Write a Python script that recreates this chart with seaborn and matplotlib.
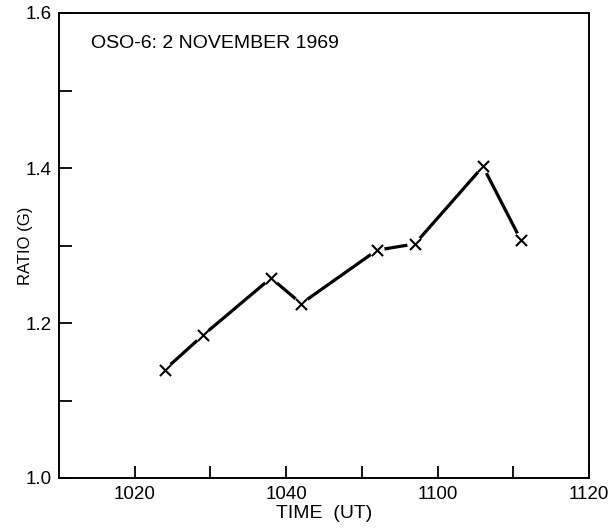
import matplotlib
matplotlib.use("Agg")
import matplotlib.pyplot as plt
import seaborn as sns
import pandas as pd
from matplotlib.ticker import FixedLocator, FuncFormatter

# Data (time in HHMM UT, ratio)
times_hhmm = ["1024", "1029", "1038", "1042", "1052", "1057", "1106", "1111"]
ratio = [1.140, 1.184, 1.258, 1.225, 1.294, 1.302, 1.402, 1.307]
x_tick_labels = ["1020", "1040", "1100", "1120"]
y_tick_labels = ["1.0", "1.2", "1.4", "1.6"]
title_text = "OSO-6: 2 NOVEMBER 1969"


def to_min(s):
    return int(s[:-2]) * 60 + int(s[-2:])


df = pd.DataFrame({"t": [to_min(s) for s in times_hhmm], "ratio": ratio})

sns.set_style("ticks")
plt.rcParams["font.family"] = ["Liberation Sans", "DejaVu Sans"]
plt.rcParams["text.color"] = "black"
plt.rcParams["axes.labelcolor"] = "black"

fig = plt.figure(figsize=(6.11, 5.28), dpi=100)
ax = fig.add_axes([59 / 611, 1 - 478 / 528, (589 - 59) / 611, (478 - 13) / 528])

sns.lineplot(data=df, x="t", y="ratio", color="black", linewidth=2.3, ax=ax,
             zorder=2, sort=False)
sns.scatterplot(data=df, x="t", y="ratio", marker="o", s=120, color="white",
                edgecolor="none", linewidth=0, ax=ax, zorder=3)
sns.scatterplot(data=df, x="t", y="ratio", marker="x", s=64, color="black",
                linewidth=1.5, ax=ax, zorder=4)

ax.set_xlim(to_min("1010"), to_min("1120"))
ax.set_ylim(1.0, 1.6)

major_x = [to_min(s) for s in x_tick_labels]
ax.xaxis.set_major_locator(FixedLocator(major_x))
ax.xaxis.set_minor_locator(FixedLocator([to_min(s) for s in ["1030", "1050", "1110"]]))
ax.xaxis.set_major_formatter(FuncFormatter(lambda v, p: f"{int(v)//60:02d}{int(v)%60:02d}"))
ax.yaxis.set_major_locator(FixedLocator([float(v) for v in y_tick_labels]))
ax.yaxis.set_minor_locator(FixedLocator([1.1, 1.3, 1.5]))
ax.yaxis.set_major_formatter(FuncFormatter(lambda v, p: f"{v:.1f}"))

for axis in (ax.xaxis, ax.yaxis):
    axis.set_tick_params(which="both", direction="in", length=9, width=1.3,
                         color="black", labelsize=13.5, labelcolor="black")
ax.tick_params(axis="x", which="both", pad=6)
ax.tick_params(axis="y", which="both", pad=5)
ax.tick_params(axis="x", which="both", top=False)
ax.tick_params(axis="y", which="both", right=False)

for sp in ax.spines.values():
    sp.set_visible(True)
    sp.set_linewidth(1.4)
    sp.set_color("black")

ax.set_xlabel("TIME  (UT)", fontsize=14, labelpad=1, color="black")
ax.set_ylabel("RATIO (G)", fontsize=12, labelpad=-5, color="black")

ax.text(0.06, 0.935, title_text, transform=ax.transAxes, fontsize=14,
        ha="left", va="center", color="black")

fig.savefig("out.png", dpi=100)
